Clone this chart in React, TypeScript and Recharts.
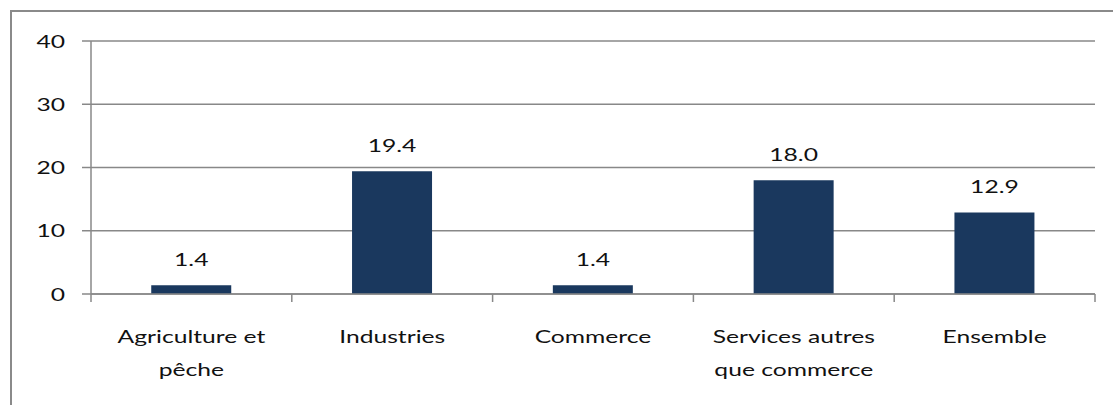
import { BarChart, Bar, XAxis, YAxis, CartesianGrid, LabelList } from 'recharts';

const categories = ['Agriculture et\npêche', 'Industries', 'Commerce', 'Services autres\nque commerce', 'Ensemble'];
const values = [1.4, 19.4, 1.4, 18.0, 12.9];
const yTicks = [0, 10, 20, 30, 40];

const data = categories.map((name, i) => ({ name, value: values[i] }));

const FONT = 'Lato, "Liberation Sans", sans-serif';
const STRETCH = 1.45;
const AXIS_COLOR = '#888888';
const BAR_COLOR = '#1a385e';

function StretchedText({ x, y, anchor, children }: { x: number; y: number; anchor: 'start' | 'middle' | 'end'; children: any }) {
  return (
    <text
      transform={`translate(${x},${y}) scale(${STRETCH},1)`}
      x={0}
      y={0}
      textAnchor={anchor}
      fontFamily={FONT}
      fontSize={17}
      fill="#111"
    >
      {children}
    </text>
  );
}

function YTick(props: any) {
  const { x, y, payload } = props;
  return <StretchedText x={x} y={y + 6.5} anchor="end">{payload.value}</StretchedText>;
}

function XTick(props: any) {
  const { x, y, payload, index, width, visibleTicksCount } = props;
  const count = visibleTicksCount || categories.length;
  const half = (width || 1004) / count / 2;
  const lines = String(payload.value).split('\n');
  return (
    <g>
      <line x1={x - half} x2={x - half} y1={y - 8} y2={y} stroke={AXIS_COLOR} strokeWidth={1.5} />
      {index === count - 1 && (
        <line x1={x + half} x2={x + half} y1={y - 8} y2={y} stroke={AXIS_COLOR} strokeWidth={1.5} />
      )}
      {lines.map((line, i) => (
        <StretchedText key={i} x={x} y={y + 41 + i * 33} anchor="middle">{line}</StretchedText>
      ))}
    </g>
  );
}

function ValueLabel(props: any) {
  const { x, y, width, value } = props;
  return <StretchedText x={x + width / 2} y={y - 19} anchor="middle">{Number(value).toFixed(1)}</StretchedText>;
}

export default function App() {
  return (
    <div style={{ position: 'fixed', left: 0, top: 0, width: 1113, height: 405, background: '#fff', overflow: 'hidden' }}>
      <div
        style={{
          position: 'absolute',
          left: 10,
          top: 10,
          width: 1200,
          height: 500,
          borderLeft: '2px solid #8a8a8a',
          borderTop: '2px solid #8a8a8a',
        }}
      />
      <div style={{ position: 'absolute', left: 0, top: 0 }}>
        <BarChart
          width={1113}
          height={405}
          data={data}
          margin={{ top: 41, right: 18, bottom: 0, left: 0 }}
          barCategoryGap="30%"
        >
          <CartesianGrid vertical={false} stroke={AXIS_COLOR} strokeWidth={1.5} />
          <XAxis
            dataKey="name"
            height={111}
            tickLine={false}
            tickSize={8}
            tickMargin={0}
            axisLine={{ stroke: AXIS_COLOR, strokeWidth: 1.5 }}
            tick={<XTick />}
            interval={0}
          />
          <YAxis
            width={91}
            domain={[0, 40]}
            ticks={yTicks}
            tickSize={9}
            tickMargin={17}
            tickLine={{ stroke: AXIS_COLOR, strokeWidth: 1.5 }}
            axisLine={{ stroke: AXIS_COLOR, strokeWidth: 1.5 }}
            tick={<YTick />}
            interval={0}
          />
          <Bar dataKey="value" fill={BAR_COLOR} isAnimationActive={false}>
            <LabelList dataKey="value" content={<ValueLabel />} />
          </Bar>
        </BarChart>
      </div>
    </div>
  );
}
